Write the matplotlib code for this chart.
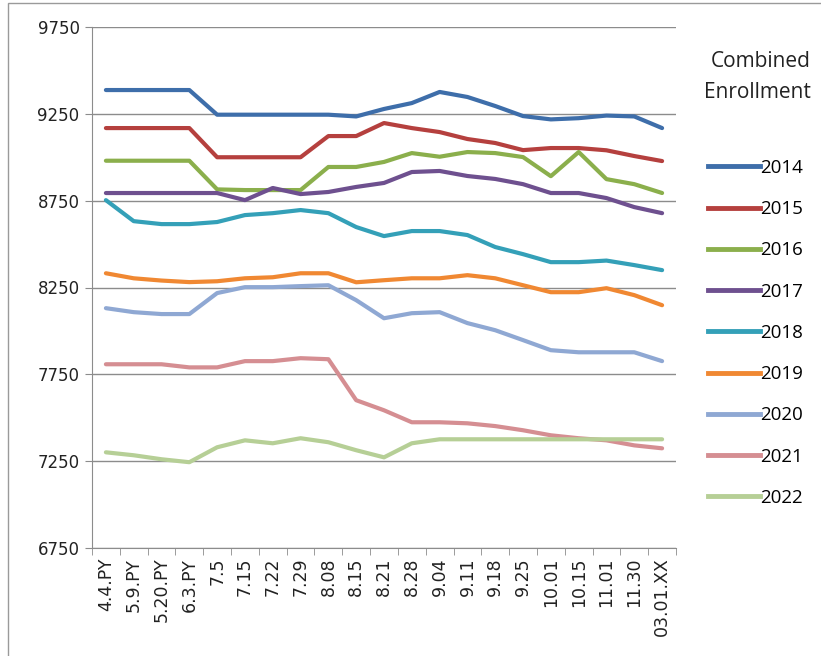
import matplotlib
matplotlib.use("Agg")
import matplotlib.pyplot as plt
from matplotlib.lines import Line2D

# categories on the x axis
dates = ["4.4.PY", "5.9.PY", "5.20.PY", "6.3.PY", "7.5", "7.15", "7.22", "7.29",
         "8.08", "8.15", "8.21", "8.28", "9.04", "9.11", "9.18", "9.25",
         "10.01", "10.15", "11.01", "11.30", "03.01.XX"]

# enrollment per year
y2014 = [9387, 9387, 9387, 9387, 9245, 9245, 9245, 9245, 9245, 9235, 9278, 9312,
         9376, 9347, 9295, 9237, 9218, 9225, 9240, 9235, 9168]
y2015 = [9168, 9168, 9168, 9168, 9000, 9000, 9000, 9000, 9122, 9122, 9197, 9168,
         9145, 9105, 9082, 9041, 9053, 9053, 9040, 9007, 8978]
y2016 = [8980, 8980, 8980, 8980, 8815, 8811, 8811, 8811, 8944, 8944, 8973, 9024,
         9003, 9030, 9024, 9001, 8891, 9030, 8874, 8845, 8794]
y2017 = [8794, 8794, 8794, 8794, 8794, 8753, 8823, 8788, 8800, 8829, 8852, 8915,
         8921, 8892, 8875, 8845, 8794, 8794, 8765, 8713, 8678]
y2018 = [8753, 8632, 8615, 8615, 8627, 8667, 8678, 8696, 8678, 8598, 8546, 8575,
         8575, 8552, 8483, 8442, 8396, 8396, 8405, 8379, 8350]
y2019 = [8332, 8303, 8290, 8281, 8286, 8303, 8309, 8332, 8332, 8280, 8292, 8303,
         8303, 8321, 8303, 8263, 8223, 8223, 8246, 8206, 8148]
y2020 = [8131, 8108, 8097, 8097, 8218, 8252, 8252, 8258, 8263, 8177, 8073, 8102,
         8108, 8045, 8004, 7947, 7889, 7877, 7877, 7877, 7826]
y2021 = [7808, 7808, 7808, 7790, 7790, 7826, 7826, 7843, 7837, 7601, 7543, 7474,
         7474, 7468, 7452, 7428, 7399, 7382, 7370, 7341, 7324]
y2022 = [7301, 7284, 7261, 7244, 7330, 7370, 7353, 7382, 7359, 7313, 7272, 7353,
         7376, 7376, 7376, 7376, 7376, 7376, 7376, 7376, 7376]

years = ["2014", "2015", "2016", "2017", "2018", "2019", "2020", "2021", "2022"]
series = [y2014, y2015, y2016, y2017, y2018, y2019, y2020, y2021, y2022]
colors = ["#3E6EAA", "#B5403E", "#8BAF4C", "#6E508F", "#34A0B8",
          "#F08832", "#8FA8D3", "#D58E92", "#B6CF96"]

fig = plt.figure(figsize=(8.21, 6.56), dpi=100)
ax = fig.add_axes([92 / 821, 1 - 548 / 656, (676 - 92) / 821, (548 - 27) / 656])

x = list(range(len(dates)))
for vals, c, lab in zip(series, colors, years):
    ax.plot(x, vals, color=c, lw=3, label=lab, solid_capstyle="round",
            solid_joinstyle="round")

ax.set_xlim(-0.5, len(dates) - 0.5)
ax.set_ylim(6750, 9750)
ax.set_yticks(range(6750, 9751, 500))
ax.yaxis.grid(True, color="#8c8c8c", lw=1)
ax.set_axisbelow(True)
ax.set_xticks(x)
ax.set_xticklabels(dates, rotation=90, fontsize=12.5, color="#222222")
ax.set_xticks([i - 0.5 for i in range(len(dates) + 1)], minor=True)
ax.tick_params(axis="x", which="major", length=0, pad=7)
ax.tick_params(axis="x", which="minor", length=5, color="#8c8c8c", direction="out")
ax.tick_params(axis="y", labelsize=12, labelcolor="#222222", length=5,
               color="#8c8c8c", pad=4)
for s in ["top", "right"]:
    ax.spines[s].set_visible(False)
for s in ["left", "bottom"]:
    ax.spines[s].set_color("#8c8c8c")

# legend title on its own, right aligned
fig.text(811 / 821, 1 - 77 / 656, "Combined\nEnrollment", ha="right", va="center",
         fontsize=15, family="Open Sans", linespacing=1.6, color="#222222")

handles = [Line2D([], [], color=c, lw=3.5) for c in colors]
leg = fig.legend(handles, years, loc="upper left",
                 bbox_to_anchor=(691 / 821, 1 - 142 / 656), frameon=False,
                 handlelength=2.77, handletextpad=0.0, labelspacing=1.24,
                 prop={"family": "Open Sans", "size": 13.5})

# outer border of the chart picture
fig.add_artist(plt.Rectangle((8 / 821, -0.01), 1.0, 1 - 3 / 656 + 0.01,
                             transform=fig.transFigure, fill=False,
                             edgecolor="#9a9a9a", lw=1))

fig.savefig("out.png", dpi=100)
